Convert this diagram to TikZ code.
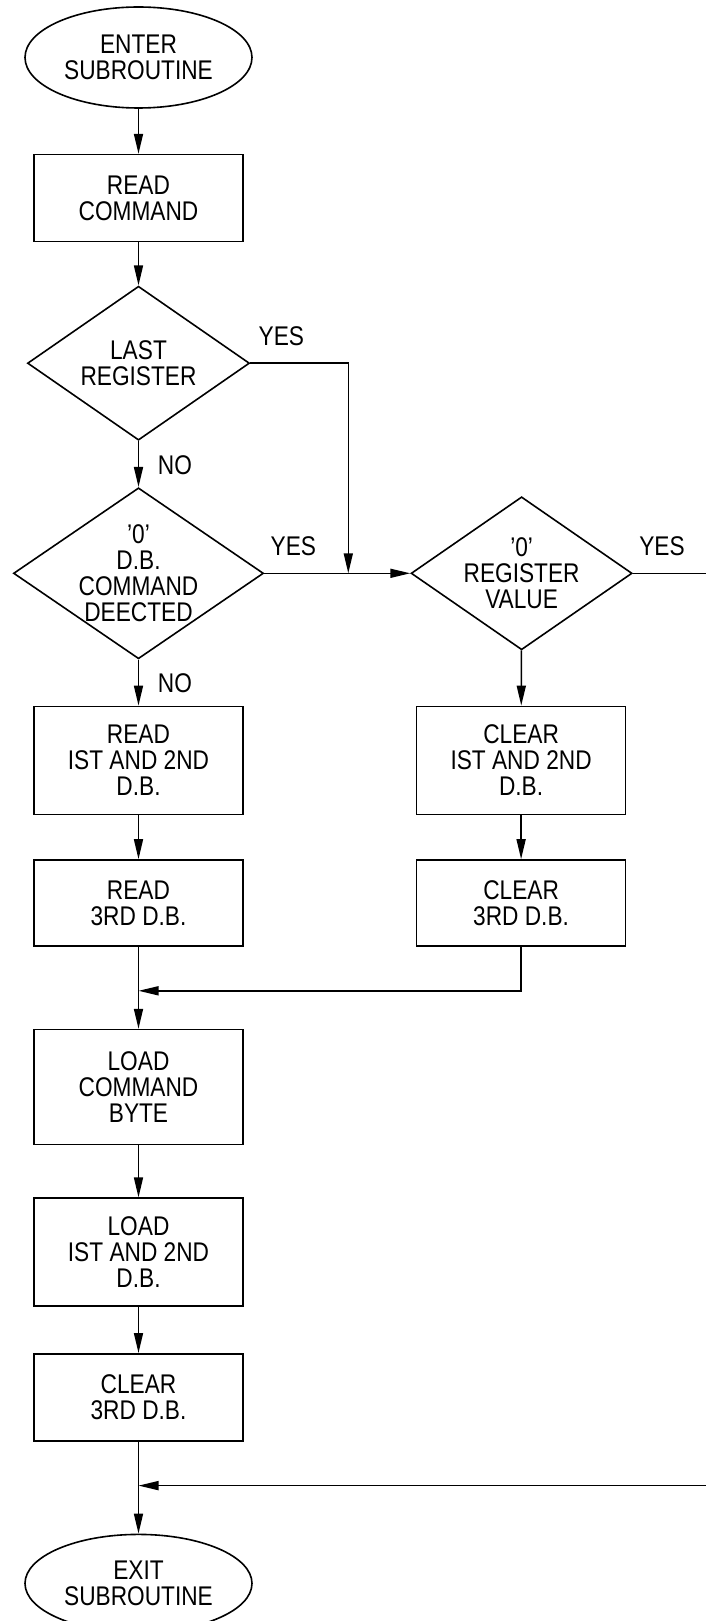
\documentclass[tikz,border=0pt]{standalone}
\usepackage{fontspec}
\setmainfont{Liberation Sans}[FakeStretch=0.84]
\usepackage{tikz}
\usetikzlibrary{shapes.geometric, arrows.meta, positioning}
\newcommand{\flowfont}{\fontsize{13.5}{13}\selectfont}

\begin{document}
\begin{tikzpicture}[
  node distance=22pt,
  box/.style={rectangle, draw, thick, minimum width=104.5pt, minimum height=43pt, inner sep=2pt, align=center, font=\flowfont},
  term/.style={ellipse, draw, thick, minimum width=113.5pt, minimum height=50.5pt, inner sep=0pt, align=center, font=\flowfont},
  decision/.style={diamond, draw, thick, shape aspect=1.45, inner sep=-3pt, align=center, font=\flowfont},
  lbl/.style={inner sep=0pt, font=\flowfont},
  flow/.style={-{Triangle[length=10pt, width=4.5pt]}, thick},
]
  \useasboundingbox (-69.25pt,28.75pt) rectangle (283.75pt,-781.75pt);

  \node[term] (enter) {ENTER\\SUBROUTINE};
  \node[box, minimum height=43.5pt, below=22.5pt of enter] (readcmd) {READ\\COMMAND};
  \node[decision, minimum width=111pt, minimum height=77pt, below=21.5pt of readcmd] (last) {LAST\\REGISTER};
  \node[decision, minimum width=125pt, minimum height=85.5pt, below=23pt of last] (zero) {'0'\\D.B.\\COMMAND\\DEECTED};
  \node[box, minimum height=54pt, below=23pt of zero] (readfirst) {READ\\IST AND 2ND\\D.B.};
  \node[box, below=22pt of readfirst] (readthird) {READ\\3RD D.B.};
  \node[box, minimum height=57.5pt, below=41pt of readthird] (loadcmd) {LOAD\\COMMAND\\BYTE};
  \node[box, minimum height=54pt, below=26pt of loadcmd] (loadfirst) {LOAD\\IST AND 2ND\\D.B.};
  \node[box, minimum height=43.5pt, below=23pt of loadfirst] (clearlast) {CLEAR\\3RD D.B.};
  \node[term, minimum height=49pt, below=46pt of clearlast] (exit) {EXIT\\SUBROUTINE};

  \node[decision, minimum width=110.5pt, minimum height=76.5pt, right=73pt of zero] (regval) {'0'\\REGISTER\\VALUE};
  \node[box, minimum height=54pt, right=86pt of readfirst] (clearfirst) {CLEAR\\IST AND 2ND\\D.B.};
  \node[box, right=86pt of readthird] (clearthird) {CLEAR\\3RD D.B.};

  \node[lbl, above right=8.5pt and 4pt of last.east] (yeslast) {YES};
  \node[lbl, below right=7pt and 9.5pt of last.south] (nolast) {NO};
  \node[lbl, above right=8.5pt and 3pt of zero.east] (yeszero) {YES};
  \node[lbl, below right=7pt and 9.5pt of zero.south] (nozero) {NO};
  \node[lbl, above right=8.5pt and 3pt of regval.east] (yesreg) {YES};

  \coordinate[right=49pt of last.east] (turn);
  \coordinate (meettop) at (turn |- zero.east);
  \coordinate[below=22pt of clearthird.south] (bend);
  \coordinate (meetmid) at (readthird.south |- bend);
  \coordinate[below=22pt of clearlast.south] (meetlow);
  \coordinate[right=38pt of regval.east] (edgetop);
  \coordinate (edgelow) at (edgetop |- meetlow);

  \draw[flow] (enter) -- (readcmd);
  \draw[flow] (readcmd) -- (last);
  \draw[flow] (last) -- (zero);
  \draw[flow] (last.east) -- (turn) -- (meettop);
  \draw[flow] (zero.east) -- (regval.west);
  \draw[flow] (zero) -- (readfirst);
  \draw[flow] (readfirst) -- (readthird);
  \draw[flow] (readthird) -- (loadcmd);
  \draw[flow] (clearthird.south) -- (bend) -- (meetmid);
  \draw[flow] (regval) -- (clearfirst);
  \draw[flow] (clearfirst) -- (clearthird);
  \draw[flow] (loadcmd) -- (loadfirst);
  \draw[flow] (loadfirst) -- (clearlast);
  \draw[flow] (clearlast) -- (exit);
  \draw[thick] (regval.east) -- (edgetop);
  \draw[flow] (edgelow) -- (meetlow);
\end{tikzpicture}
\end{document}
